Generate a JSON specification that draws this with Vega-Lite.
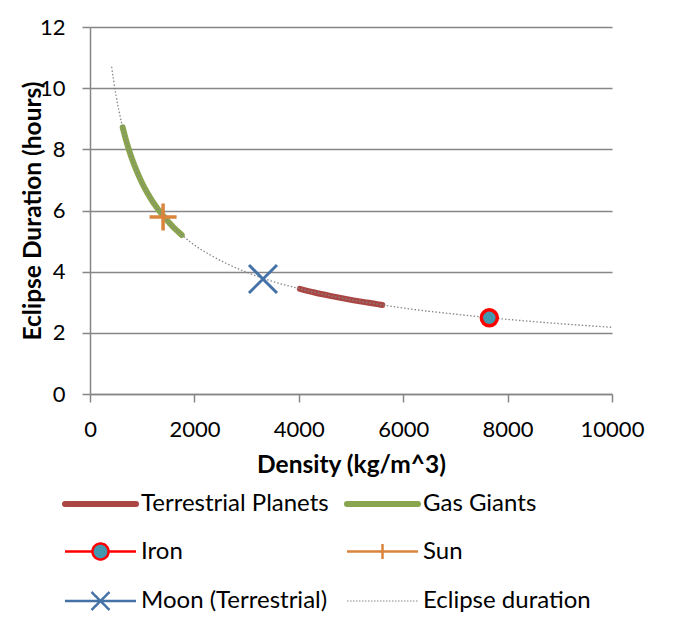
{
  "$schema": "https://vega.github.io/schema/vega-lite/v6.json",
  "width": 522,
  "height": 367,
  "autosize": {"type": "none"},
  "padding": {"left": 90, "top": 27, "right": 63, "bottom": 243},
  "background": "white",
  "config": {
    "font": "Lato",
    "view": {"stroke": null},
    "axis": {
      "domainColor": "#868686",
      "domainWidth": 1.5,
      "tickColor": "#868686",
      "tickWidth": 1.5,
      "tickSize": 8,
      "gridColor": "#868686",
      "gridWidth": 1.5,
      "labelFont": "Lato",
      "labelFontSize": 22,
      "labelColor": "#000000",
      "labelPadding": 17,
      "titleFont": "Lato",
      "titleFontSize": 24.5,
      "titleFontWeight": "bold",
      "titleColor": "#000000"
    }
  },
  "data": {
    "values": [
      {"series": "Eclipse duration", "density": 415, "hours": 10.70},
      {"series": "Eclipse duration", "density": 450, "hours": 10.28},
      {"series": "Eclipse duration", "density": 500, "hours": 9.75},
      {"series": "Eclipse duration", "density": 550, "hours": 9.30},
      {"series": "Eclipse duration", "density": 600, "hours": 8.90},
      {"series": "Eclipse duration", "density": 700, "hours": 8.24},
      {"series": "Eclipse duration", "density": 800, "hours": 7.71},
      {"series": "Eclipse duration", "density": 900, "hours": 7.27},
      {"series": "Eclipse duration", "density": 1000, "hours": 6.89},
      {"series": "Eclipse duration", "density": 1200, "hours": 6.29},
      {"series": "Eclipse duration", "density": 1400, "hours": 5.83},
      {"series": "Eclipse duration", "density": 1600, "hours": 5.45},
      {"series": "Eclipse duration", "density": 1800, "hours": 5.14},
      {"series": "Eclipse duration", "density": 2000, "hours": 4.87},
      {"series": "Eclipse duration", "density": 2300, "hours": 4.55},
      {"series": "Eclipse duration", "density": 2600, "hours": 4.28},
      {"series": "Eclipse duration", "density": 3000, "hours": 3.98},
      {"series": "Eclipse duration", "density": 3500, "hours": 3.68},
      {"series": "Eclipse duration", "density": 4000, "hours": 3.45},
      {"series": "Eclipse duration", "density": 4500, "hours": 3.25},
      {"series": "Eclipse duration", "density": 5000, "hours": 3.08},
      {"series": "Eclipse duration", "density": 5500, "hours": 2.94},
      {"series": "Eclipse duration", "density": 6000, "hours": 2.81},
      {"series": "Eclipse duration", "density": 7000, "hours": 2.61},
      {"series": "Eclipse duration", "density": 8000, "hours": 2.44},
      {"series": "Eclipse duration", "density": 9000, "hours": 2.30},
      {"series": "Eclipse duration", "density": 10000, "hours": 2.18},
      {"series": "Gas Giants", "density": 626, "hours": 8.72},
      {"series": "Gas Giants", "density": 700, "hours": 8.24},
      {"series": "Gas Giants", "density": 800, "hours": 7.71},
      {"series": "Gas Giants", "density": 900, "hours": 7.27},
      {"series": "Gas Giants", "density": 1000, "hours": 6.89},
      {"series": "Gas Giants", "density": 1100, "hours": 6.57},
      {"series": "Gas Giants", "density": 1200, "hours": 6.29},
      {"series": "Gas Giants", "density": 1300, "hours": 6.05},
      {"series": "Gas Giants", "density": 1400, "hours": 5.83},
      {"series": "Gas Giants", "density": 1500, "hours": 5.63},
      {"series": "Gas Giants", "density": 1600, "hours": 5.45},
      {"series": "Gas Giants", "density": 1700, "hours": 5.29},
      {"series": "Gas Giants", "density": 1757, "hours": 5.20},
      {"series": "Terrestrial Planets", "density": 4020, "hours": 3.44},
      {"series": "Terrestrial Planets", "density": 4300, "hours": 3.32},
      {"series": "Terrestrial Planets", "density": 4600, "hours": 3.21},
      {"series": "Terrestrial Planets", "density": 4900, "hours": 3.11},
      {"series": "Terrestrial Planets", "density": 5200, "hours": 3.02},
      {"series": "Terrestrial Planets", "density": 5500, "hours": 2.94},
      {"series": "Terrestrial Planets", "density": 5600, "hours": 2.91},
      {"series": "Iron", "density": 7650, "hours": 2.49},
      {"series": "Sun", "density": 1400, "hours": 5.79},
      {"series": "Moon (Terrestrial)", "density": 3314, "hours": 3.76}
    ]
  },
  "encoding": {
    "x": {
      "field": "density", "type": "quantitative",
      "scale": {"domain": [0, 10000], "nice": false, "zero": true},
      "axis": {"values": [0, 2000, 4000, 6000, 8000, 10000], "format": "d", "grid": false, "title": "Density (kg/m^3)", "titlePadding": 13, "labelFlush": false}
    },
    "y": {
      "field": "hours", "type": "quantitative",
      "scale": {"domain": [0, 12], "nice": false},
      "axis": {"values": [0, 2, 4, 6, 8, 10, 12], "grid": true, "title": "Eclipse Duration (hours)", "titlePadding": -6, "labelFlush": false}
    },
    "color": {
      "field": "series", "type": "nominal",
      "scale": {
        "domain": ["Terrestrial Planets", "Gas Giants", "Iron", "Sun", "Moon (Terrestrial)", "Eclipse duration"],
        "range": ["#AA4643", "#89A54E", "#FF0000", "#DB843D", "#4572A7", "#868686"]
      },
      "legend": {
        "title": null,
        "orient": "none",
        "legendX": -27,
        "legendY": 465,
        "columns": 2,
        "direction": "horizontal",
        "columnPadding": 6,
        "rowPadding": 22.5,
        "symbolSize": 400,
        "labelOffset": 54,
        "labelLimit": 400,
        "labelFont": "Lato",
        "labelFontSize": 24,
        "labelColor": "#000000",
        "encode": {
          "symbols": {
            "update": {
              "shape": {"signal": "datum.value === 'Iron' ? 'M-1,0H1.75M3.35,0H6.1M1.75,0A0.8,0.8,0,1,0,3.35,0A0.8,0.8,0,1,0,1.75,0' : datum.value === 'Sun' ? 'M-1,0H6.1M2.55,-0.75V0.75' : datum.value === 'Moon (Terrestrial)' ? 'M-1,0H6.1M1.65,-0.9L3.45,0.9M1.65,0.9L3.45,-0.9' : 'M-1,0H6.1'"},
              "fill": {"signal": "datum.value === 'Iron' ? '#4198AF' : 'transparent'"},
              "stroke": {"signal": "scale('color', datum.value)"},
              "strokeWidth": {"signal": "datum.value === 'Terrestrial Planets' || datum.value === 'Gas Giants' ? 6 : datum.value === 'Eclipse duration' ? 1 : 2.5"},
              "strokeDash": {"signal": "datum.value === 'Eclipse duration' ? [1.5, 1.5] : [1, 0]"},
              "strokeCap": {"signal": "datum.value === 'Terrestrial Planets' || datum.value === 'Gas Giants' ? 'round' : 'butt'"},
              "opacity": {"value": 1}
            }
          }
        }
      }
    }
  },
  "layer": [
    {
      "transform": [{"filter": "datum.series === 'Terrestrial Planets' || datum.series === 'Gas Giants'"}],
      "mark": {"type": "line", "strokeWidth": 6, "strokeCap": "round", "interpolate": "monotone"}
    },
    {
      "transform": [{"filter": "datum.series === 'Eclipse duration'"}],
      "mark": {"type": "line", "strokeWidth": 1.3, "strokeDash": [1.5, 2], "interpolate": "monotone"}
    },
    {
      "transform": [{"filter": "datum.series === 'Sun'"}],
      "mark": {"type": "point", "filled": false, "shape": "M-1,0H1M0,-1V1", "size": 729, "strokeWidth": 3.5, "opacity": 1}
    },
    {
      "transform": [{"filter": "datum.series === 'Moon (Terrestrial)'"}],
      "mark": {"type": "point", "filled": false, "shape": "M-1,-1L1,1M-1,1L1,-1", "size": 784, "strokeWidth": 3, "opacity": 1}
    },
    {
      "transform": [{"filter": "datum.series === 'Iron'"}],
      "mark": {"type": "point", "filled": true, "shape": "circle", "size": 256, "strokeWidth": 3.5, "opacity": 1},
      "encoding": {
        "fill": {"value": "#4198AF"},
        "stroke": {"value": "#FF0000"}
      }
    }
  ]
}
